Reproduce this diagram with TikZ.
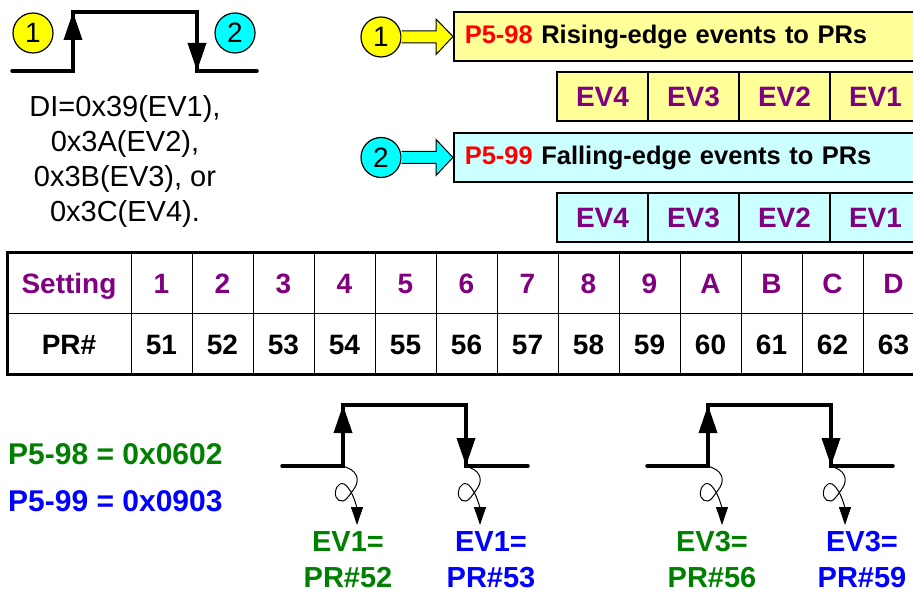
\documentclass[tikz,border=0pt]{standalone}
\usepackage{fontspec}
\setmainfont{Liberation Sans}
\usepackage{tikz}
\usetikzlibrary{arrows.meta,calc,positioning}
\definecolor{lyellow}{HTML}{FFFF99}
\definecolor{lcyan}{HTML}{CCFFFF}
\definecolor{yel}{HTML}{FFFF00}
\definecolor{aqua}{HTML}{00FFFF}
\definecolor{evpurple}{HTML}{800080}
\definecolor{dgreen}{HTML}{008000}
\definecolor{pblue}{HTML}{0000FF}
\definecolor{pred}{HTML}{FF0000}
\newcommand{\fsz}[2]{\fontsize{#1}{#2}\selectfont}

\begin{document}
\begin{tikzpicture}[x=1pt, y=-1pt,
    wave/.style={line width=3.5, line cap=round},
    tip/.style={-{Triangle[length=28pt,width=18pt]}},
    curl/.style={line width=1, -{Triangle[length=18pt,width=12pt]}},
    circ/.style={circle, draw, line width=1.2, minimum size=40pt, inner sep=0pt, font=\fsz{28}{28}},
    hdbox/.style={draw, line width=1.5, anchor=west, minimum height=49pt, text width=452pt,
      inner xsep=11pt, align=left, font=\bfseries\fsz{25.5}{30}},
    evcell/.style={draw, line width=1.5, minimum width=91pt, minimum height=49pt, inner sep=0pt,
      text height=20pt, text depth=0pt, text=evpurple, font=\bfseries\fsz{28}{30}},
    cell/.style={anchor=base, inner sep=0pt, font=\bfseries\fsz{28}{30}},
    lbl/.style={anchor=base, align=center, inner sep=0pt, font=\bfseries\fsz{29}{36}}]
        \useasboundingbox (0,0) rectangle (913,593);
        \clip (0,0) rectangle (913,593);
        % Top left pulse
        \coordinate (L0) at (12,71);
        \coordinate (L1) at (73,71);
        \coordinate (L2) at (73,12);
        \coordinate (L3) at (197,12);
        \coordinate (L4) at (197,71);
        \coordinate (L5) at (257,71);
        \draw[wave] (L0) -- (L1) -- (L2) -- (L3) -- (L4) -- (L5);
        \draw[wave, tip] (L1) -- (L2);
        \draw[wave, tip] (L3) -- (L4);
        \node[circ, fill=yel] (n1) at (33,33) {1};
        \node[circ, fill=aqua] (n2) at (235,33) {2};
        \node[align=center, font=\fsz{29}{35}] (di) at (125,161)
        {DI=0x39(EV1),\\0x3A(EV2),\\0x3B(EV3), or\\0x3C(EV4).};
        % Parameter boxes
        \node[circ, fill=yel] (c1) at (381,37) {1};
        \node[hdbox, fill=lyellow] (h1) at (453,36.5) {\textcolor{pred}{P5-98} Rising-edge events to PRs};
        \draw[line width=1, fill=yel] let \p1=(c1.east), \p2=(h1.west) in
        (\x1,\y1+6pt) -- (\x2-17pt,\y1+6pt) -- (\x2-17pt,\y1+18pt) -- (\x2,\y2)
        -- (\x2-17pt,\y2-18pt) -- (\x2-17pt,\y1-6pt) -- (\x1,\y1-6pt);
        \node[circ, fill=aqua] (c2) at (381,157.5) {2};
        \node[hdbox, fill=lcyan] (h2) at (453,157.5) {\textcolor{pred}{P5-99} Falling-edge events to PRs};
        \draw[line width=1, fill=aqua] let \p1=(c2.east), \p2=(h2.west) in
        (\x1,\y1+6pt) -- (\x2-17pt,\y1+6pt) -- (\x2-17pt,\y1+18pt) -- (\x2,\y2)
        -- (\x2-17pt,\y2-18pt) -- (\x2-17pt,\y1-6pt) -- (\x1,\y1-6pt);
        \foreach \e [count=\k] in {4,3,2,1}{
          \node[evcell, fill=lyellow] (ea\k) at ({602.5+91*(\k-1)},96.5) {EV\e};
          \node[evcell, fill=lcyan] (eb\k) at ({602.5+91*(\k-1)},217.5) {EV\e};
        }
        % Table
        \draw[line width=3] (925,253) -- (7,253) -- (7,375) -- (925,375);
        \draw[line width=1] (7,314) -- (925,314);
        \foreach \i in {0,...,12}
          \draw[line width=1] ({131+61*\i},253) -- ({131+61*\i},375);
        \node[cell, text=evpurple] (set) at (69,294) {Setting};
        \node[cell] (pr) at (69,355) {PR\#};
        \foreach \s [count=\i] in {1,2,3,4,5,6,7,8,9,A,B,C,D}{
          \pgfmathtruncatemacro\prn{50+\i}
          \node[cell, text=evpurple] (s\i) at ({100.5+61*\i},294) {\s};
          \node[cell] (p\i) at ({100.5+61*\i},355) {\prn};
        }
        % Values
        \node[anchor=west, inner sep=0pt, text=dgreen, font=\bfseries\fsz{30}{30}] (v98) at (8,454) {P5-98 = 0x0602};
        \node[anchor=west, inner sep=0pt, text=pblue, font=\bfseries\fsz{30}{30}] (v99) at (8,501.5) {P5-99 = 0x0903};
        % Bottom pulses
        \foreach \dx [count=\k] in {0,365}{
          \coordinate (r\k) at ({343+\dx},466);
          \coordinate (f\k) at ({466+\dx},466);
          \coordinate (rt\k) at ({343+\dx},405);
          \coordinate (ft\k) at ({466+\dx},405);
          \draw[wave] ({282+\dx},466) -- (r\k) -- (rt\k) -- (ft\k) -- (f\k) -- ({528+\dx},466);
          \draw[wave, tip] (r\k) -- (rt\k);
          \draw[wave, tip] (ft\k) -- (f\k);
        }
        \foreach \c in {r1,f1,r2,f2}
          \draw[curl, shift={(\c)}] plot[smooth, tension=0.7] coordinates
          {(0,0) (11,6) (14,16) (8,27) (0,35) (-7,31) (-6,21) (1,18) (9,28) (14,42)} -- (14,59);
        \node[lbl, text=dgreen] (g1) at (348,587) {EV1=\\PR\#52};
        \node[lbl, text=pblue] (b1) at (491,587) {EV1=\\PR\#53};
        \node[lbl, text=dgreen] (g2) at (712,587) {EV3=\\PR\#56};
        \node[lbl, text=pblue] (b2) at (862,587) {EV3=\\PR\#59};
\end{tikzpicture}
\end{document}
